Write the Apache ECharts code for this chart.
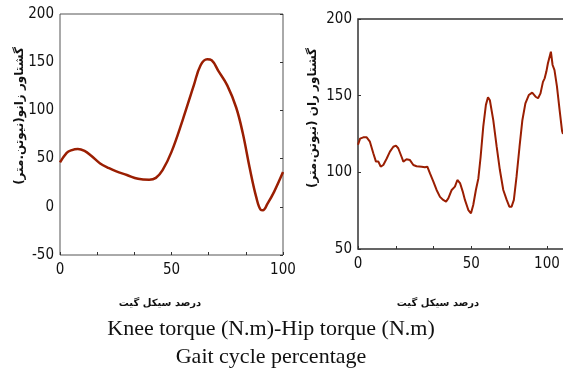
<!DOCTYPE html>
<html lang="fa">
<head>
  <meta charset="UTF-8">
  <title>Knee torque - Hip torque</title>
  <style>
    body { margin: 0; padding: 0; background: #fff; }
    #chart { width: 563px; height: 369px; }
  </style>
</head>
<body>
  <div id="chart"></div>
  <script src="https://cdn.jsdelivr.net/npm/echarts@6.0.0/dist/echarts.min.js"></script>
  <script>
    // knee torque (left panel), x = gait cycle %
    const kneeX = [0, 3, 5, 8, 11, 14, 18, 22, 25, 30, 35, 40, 43, 46, 50, 55, 60, 63, 66, 68, 71, 75, 79, 82, 85, 88, 90, 91, 93, 96, 100];
    const kneeTorque = [46, 56, 58.6, 60, 58, 53, 45, 40, 37, 33, 29, 28, 30, 38, 57, 90, 126, 146.6, 153, 152, 141, 126, 103, 76, 41, 10, -3, -3.5, 3, 15.5, 36];

    // hip torque (right panel)
    const hipX = [0, 1.1, 2.8, 4.6, 6.3, 8.1, 9.5, 10.8, 12, 13.4, 15.2, 16.9, 18.7, 20.1, 21.3, 23.1, 24, 25.7, 27.5, 29.3, 31, 33.7, 35.4, 36.7, 38.1, 39.9, 41.6, 43.4, 45.1, 46.6, 47.8, 49.6, 51.3, 52.6, 54, 55.4, 56.6, 58.4, 59.8, 61, 62.4, 63.7, 64.9, 66.3, 67.7, 68.8, 69.8, 71.6, 73.4, 75.1, 76.9, 78.7, 80.1, 81.3, 82.5, 83.9, 85.5, 87, 88.6, 90.4, 92.2, 94, 95.3, 96.6, 97.9, 98.8, 99.7, 100.5, 101.2, 102.1, 103, 104, 105.3, 106.7, 108, 108.5];
    const hipTorque = [118, 122, 122.8, 122.8, 120, 112.4, 107, 107, 103.7, 104.8, 109, 113.5, 116.7, 117.4, 115.7, 110, 107, 108.5, 108, 104.8, 104, 103.7, 103.3, 103.7, 99.3, 94, 88.5, 84, 82, 80.9, 83, 88.5, 90.7, 95, 93, 87.6, 82, 75.4, 73.3, 78.7, 88.5, 96, 110, 129.8, 144, 149, 147, 134, 116.7, 101.5, 88.5, 82, 77.6, 77.6, 82, 97, 116.7, 134, 145, 150.4, 152, 149.3, 148.3, 151.5, 159, 161.3, 165.7, 171, 170, 178.7, 170, 166.7, 156, 140.7, 127, 125];

    // tick positions and labels
    const kneeXTicks = [0, 100 / 6, 200 / 6, 50, 400 / 6, 500 / 6, 100];
    const kneeXLabels = [0, 50, 100];
    const hipXTicks = [0, 20, 40, 60, 80, 100];
    const hipXLabelPos = [0, 60, 100];
    const hipXLabelText = ['0', '50', '100'];

    const lineColor = '#9a1e02';
    const tickFont = { fontFamily: 'DejaVu Sans Condensed, Liberation Sans Narrow, Arial, sans-serif', fontSize: 15, color: '#111' };
    const faFont = 'bold 12px DejaVu Sans';
    const faFontSmall = 'bold 10px DejaVu Sans';

    const chart = echarts.init(document.getElementById('chart'), null, { renderer: 'canvas' });

    const option = {
      backgroundColor: '#fff',
      animation: false,
      grid: [
        { left: 60, top: 14, width: 223, height: 241, outerBoundsMode: 'none', show: true, borderColor: '#555', borderWidth: 1, backgroundColor: 'transparent' },
        { left: 358, top: 19, width: 215, height: 230, outerBoundsMode: 'none', show: true, borderColor: '#333', borderWidth: 1.5, backgroundColor: 'transparent' }
      ],
      xAxis: [
        {
          gridIndex: 0, type: 'value', min: 0, max: 100,
          axisLine: { show: false, onZero: false }, splitLine: { show: false },
          axisTick: { inside: true, length: 3, customValues: kneeXTicks, lineStyle: { color: '#333' } },
          axisLabel: { customValues: kneeXLabels, margin: 8, ...tickFont }
        },
        {
          gridIndex: 1, type: 'value', min: 0, max: 113.8,
          axisLine: { show: false, onZero: false }, splitLine: { show: false },
          axisTick: { inside: true, length: 3, customValues: hipXTicks, lineStyle: { color: '#333' } },
          axisLabel: {
            customValues: hipXLabelPos, margin: 8, ...tickFont,
            formatter: v => hipXLabelText[hipXLabelPos.indexOf(v)]
          }
        }
      ],
      yAxis: [
        {
          gridIndex: 0, type: 'value', min: -50, max: 200, interval: 50,
          axisLine: { show: false, onZero: false }, splitLine: { show: false },
          axisTick: { show: false },
          axisLabel: { margin: 6, ...tickFont }
        },
        {
          gridIndex: 0, type: 'value', min: -50, max: 200, interval: 50, position: 'right',
          axisLine: { show: false, onZero: false }, splitLine: { show: false },
          axisTick: { inside: true, length: 3, lineStyle: { color: '#333' } },
          axisLabel: { show: false }
        },
        {
          gridIndex: 1, type: 'value', min: 50, max: 200, interval: 50,
          axisLine: { show: false, onZero: false }, splitLine: { show: false },
          axisTick: { inside: true, length: 3, lineStyle: { color: '#333' } },
          axisLabel: { margin: 6, ...tickFont }
        }
      ],
      graphic: [
        { type: 'text', x: 20, y: 116, rotation: Math.PI / 2, style: { text: 'گشتاور زانو(نیوتن.متر)', fill: '#111', font: faFont, align: 'center', verticalAlign: 'middle' } },
        { type: 'text', x: 313, y: 118, rotation: Math.PI / 2, style: { text: 'گشتاور ران (نیوتن.متر)', fill: '#111', font: faFont, align: 'center', verticalAlign: 'middle' } },
        { type: 'text', x: 160, y: 303, style: { text: 'درصد سیکل گیت', fill: '#111', font: faFontSmall, align: 'center', verticalAlign: 'middle' } },
        { type: 'text', x: 438, y: 303, style: { text: 'درصد سیکل گیت', fill: '#111', font: faFontSmall, align: 'center', verticalAlign: 'middle' } },
        { type: 'text', x: 271, y: 329, style: { text: 'Knee torque (N.m)-Hip torque (N.m)', fill: '#111', font: '22px Liberation Serif', align: 'center', verticalAlign: 'middle' } },
        { type: 'text', x: 271, y: 357, style: { text: 'Gait cycle percentage', fill: '#111', font: '22px Liberation Serif', align: 'center', verticalAlign: 'middle' } }
      ],
      series: [
        {
          type: 'line', xAxisIndex: 0, yAxisIndex: 0, smooth: 0.4, showSymbol: false,
          data: kneeX.map((x, i) => [x, kneeTorque[i]]),
          lineStyle: { color: lineColor, width: 2.5 }
        },
        {
          type: 'line', xAxisIndex: 1, yAxisIndex: 2, showSymbol: false,
          data: hipX.map((x, i) => [x, hipTorque[i]]),
          lineStyle: { color: lineColor, width: 2 }
        }
      ]
    };

    chart.setOption(option);
  </script>
</body>
</html>
